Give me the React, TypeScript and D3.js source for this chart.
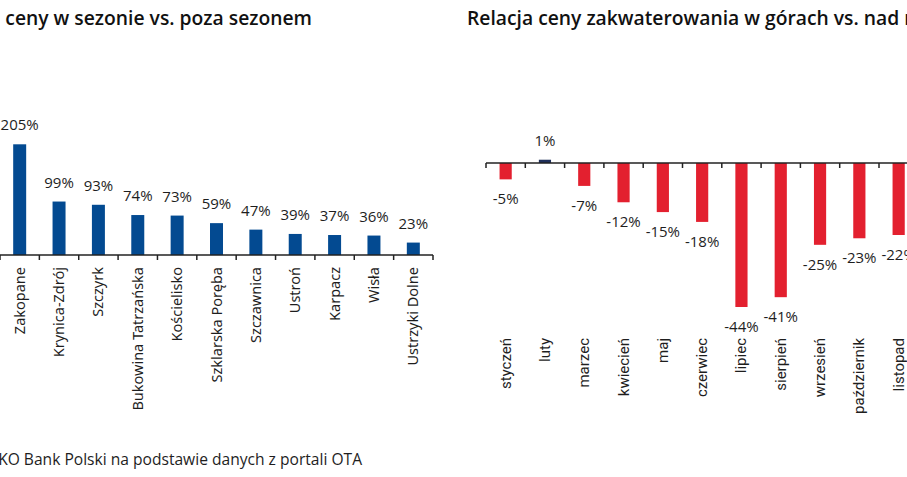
import React from "react";
import * as d3 from "d3";

const W = 907;
const H = 477;

const resorts = ["Zakopane", "Krynica-Zdrój", "Szczyrk", "Bukowina Tatrzańska", "Kościelisko", "Szklarska Poręba", "Szczawnica", "Ustroń", "Karpacz", "Wisła", "Ustrzyki Dolne"];
const seasonPremium = [205, 99, 93, 74, 73, 59, 47, 39, 37, 36, 23];

const months = ["styczeń", "luty", "marzec", "kwiecień", "maj", "czerwiec", "lipiec", "sierpień", "wrzesień", "październik", "listopad"];
const mountainVsSea = [-5, 1, -7, -12, -15, -18, -44, -41, -25, -23, -22];

const leftTitle = "Relacja ceny w sezonie vs. poza sezonem";
const rightTitle = "Relacja ceny zakwaterowania w górach vs. nad morzem";
const source = "Źródło: PKO Bank Polski na podstawie danych z portali OTA";

const BLUE = "#034a91";
const RED = "#e3202f";
const NAVY = "#1f2f5a";
const AXIS = "#222";
const TXT = "#1e1e1e";

export default function App() {
  // left chart
  const xL = d3.scaleBand<string>().domain(resorts).range([0, 433]).padding(0);
  const yL = d3.scaleLinear().domain([0, 205]).range([255, 144.3]);
  const bwL = xL.bandwidth() * 0.33;

  // right chart
  const xR = d3.scaleBand<string>().domain(months).range([486, 486 + 39.3 * months.length]).padding(0);
  const yR = d3.scaleLinear().domain([0, -44]).range([163, 307]);
  const bwR = xR.bandwidth() * 0.31;

  const fmt = (v: number) => `${v}%`;

  return (
    <svg width={W} height={H} style={{ position: "absolute", left: 0, top: 0, background: "#fff" }}>
      <rect x={0} y={0} width={W} height={H} fill="#fff" />
      {/* Titles */}
      <text x={312} y={25} textAnchor="end" fontFamily="Open Sans" fontWeight={600} fontSize={19.3} fill="#111">
        {leftTitle}
      </text>
      <text x={467} y={25} fontFamily="Open Sans" fontWeight={600} fontSize={19.3} fill="#111">
        {rightTitle}
      </text>

      {/* Left chart bars */}
      {resorts.map((r, i) => {
        const cx = (xL(r) as number) + xL.bandwidth() / 2;
        const v = seasonPremium[i];
        return (
          <g key={r}>
            <rect x={cx - bwL / 2} y={yL(v)} width={bwL} height={yL(0) - yL(v)} fill={BLUE} />
            <text x={cx} y={yL(v) - 14} textAnchor="middle" fontFamily="Open Sans" fontSize={15} fill={TXT}>
              {fmt(v)}
            </text>
            <text
              transform={`translate(${cx + 5},267) rotate(-90)`}
              textAnchor="end"
              fontFamily="Noto Sans"
              fontSize={14.5}
              fill={TXT}
            >
              {r}
            </text>
          </g>
        );
      })}
      <line x1={0} x2={433} y1={255} y2={255} stroke={AXIS} strokeWidth={1.5} />
      {[...resorts.map((r) => xL(r) as number), 433].map((t, i) => (
        <line key={i} x1={t} x2={t} y1={255} y2={260} stroke={AXIS} strokeWidth={1.5} />
      ))}

      {/* Right chart bars */}
      {months.map((m, i) => {
        const cx = (xR(m) as number) + xR.bandwidth() / 2;
        const v = mountainVsSea[i];
        const y0 = yR(0);
        const y1 = yR(v);
        const top = Math.min(y0, y1);
        const h = Math.max(Math.abs(y1 - y0), 1.5);
        return (
          <g key={m}>
            <rect x={cx - bwR / 2} y={v >= 0 ? y0 - h : top} width={bwR} height={h} fill={v >= 0 ? NAVY : RED} />
            <text
              x={cx}
              y={v >= 0 ? y1 - 14 : y1 + 25}
              textAnchor="middle"
              fontFamily="Open Sans"
              fontSize={15}
              fill={TXT}
            >
              {fmt(v)}
            </text>
            <text
              transform={`translate(${cx + 5},338) rotate(-90)`}
              textAnchor="end"
              fontFamily="Roboto"
              fontSize={15}
              fill={TXT}
            >
              {m}
            </text>
          </g>
        );
      })}
      <line x1={486} x2={486 + 39.3 * months.length} y1={163} y2={163} stroke={AXIS} strokeWidth={1.5} />
      {[...months.map((m) => xR(m) as number), 486 + 39.3 * months.length].map((t, i) => (
        <line key={i} x1={t} x2={t} y1={163} y2={168} stroke={AXIS} strokeWidth={1.5} />
      ))}

      {/* Source */}
      <text x={362} y={465} textAnchor="end" fontFamily="Open Sans" fontSize={15.6} fill={TXT}>
        {source}
      </text>
    </svg>
  );
}
